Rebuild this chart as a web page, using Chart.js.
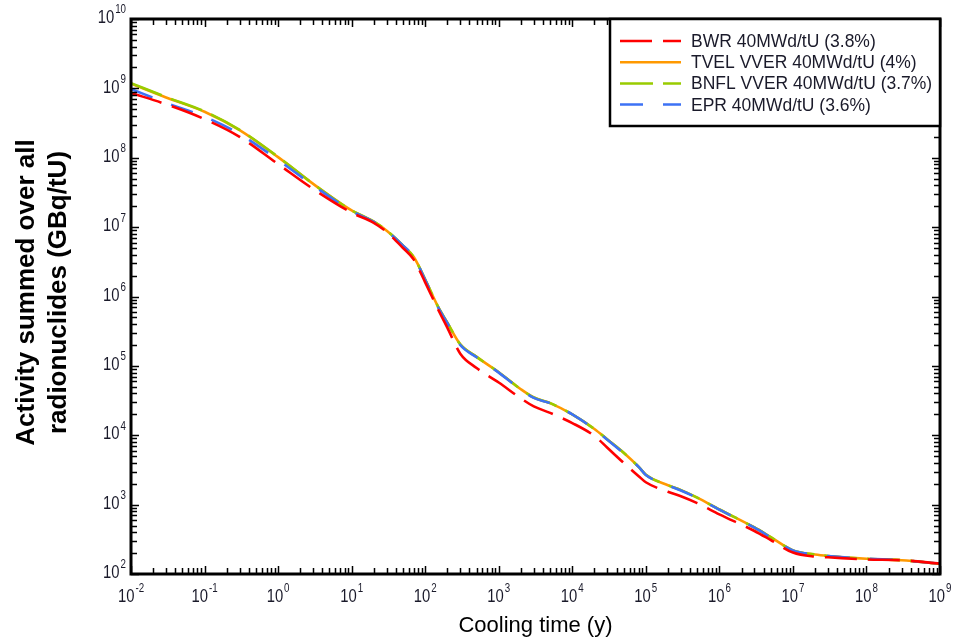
<!DOCTYPE html>
<html><head><meta charset="utf-8">
<script src="https://cdn.jsdelivr.net/npm/chart.js@4.4.1/dist/chart.umd.min.js"></script>
<style>html,body{margin:0;padding:0;background:#fff;} #wrap{position:relative;width:955px;height:639px;}</style>
</head><body><div id="wrap"><canvas id="c" width="955" height="639"></canvas></div>
<script>
// Cooling time (years)
const coolingTime = [0.01, 0.03, 0.1, 0.3, 1, 3, 10, 20, 30, 50, 70, 100, 150, 200, 300, 500,
  1000, 2000, 3000, 5000, 1e4, 2e4, 3e4, 5e4, 8e4, 1e5, 2e5, 3e5, 5e5, 1e6, 3e6, 5e6,
  1e7, 2e7, 3e7, 1e8, 3e8, 1e9];
// Activity (GBq/tU)
const tvel = [1.17e9, 7.4e8, 4.6e8, 2.5e8, 1.02e8, 4.2e7, 1.74e7, 1.2e7, 8.9e6, 5.4e6, 3.7e6, 1.76e6, 7.1e5, 4.2e5, 2.05e5, 1.35e5,
  8.1e4, 4.6e4, 3.5e4, 2.9e4, 2.0e4, 1.23e4, 8.7e3, 5.6e3, 3.5e3, 2.7e3, 1.9e3, 1.62e3, 1.26e3, 851, 468, 339,
  219, 191, 182, 166, 158, 141];
const bnfl = [1.19e9, 7.5e8, 4.65e8, 2.52e8, 1.03e8, 4.2e7, 1.74e7, 1.2e7, 8.9e6, 5.4e6, 3.7e6, 1.76e6, 7.1e5, 4.2e5, 2.05e5, 1.35e5,
  8.1e4, 4.6e4, 3.5e4, 2.9e4, 2.0e4, 1.23e4, 8.7e3, 5.6e3, 3.5e3, 2.7e3, 1.9e3, 1.62e3, 1.26e3, 851, 468, 339,
  219, 191, 182, 166, 158, 141];
const epr = [9.8e8, 6.2e8, 3.9e8, 2.2e8, 9.3e7, 4.0e7, 1.7e7, 1.19e7, 8.8e6, 5.4e6, 3.7e6, 1.74e6, 7.0e5, 4.15e5, 2.0e5, 1.33e5,
  8.0e4, 4.55e4, 3.45e4, 2.9e4, 2.0e4, 1.22e4, 8.6e3, 5.5e3, 3.5e3, 2.68e3, 1.9e3, 1.6e3, 1.25e3, 845, 465, 337,
  218, 190, 181, 166, 158, 141];
const bwr = [8.6e8, 5.9e8, 3.6e8, 2.0e8, 8.1e7, 3.55e7, 1.62e7, 1.15e7, 8.5e6, 5.0e6, 3.4e6, 1.6e6, 6.5e5, 3.55e5, 1.5e5, 9.3e4,
  5.75e4, 3.4e4, 2.6e4, 2.1e4, 1.5e4, 9.8e3, 6.6e3, 4.0e3, 2.57e3, 2.1e3, 1.53e3, 1.32e3, 1.05e3, 724, 417, 309,
  204, 178, 174, 162, 158, 141];
const seriesNames = ['BWR 40MWd/tU (3.8%)', 'TVEL VVER 40MWd/tU (4%)', 'BNFL VVER 40MWd/tU (3.7%)', 'EPR 40MWd/tU (3.6%)'];
const xTickExponents = [-2, -1, 0, 1, 2, 3, 4, 5, 6, 7, 8, 9];
const yTickExponents = [2, 3, 4, 5, 6, 7, 8, 9, 10];
const xTitle = 'Cooling time (y)';
const yTitle = ['Activity summed over all', 'radionuclides (GBq/tU)'];

const colors = ['#ff0000', '#ff9900', '#99cc00', '#3d72f5'];
const dashes = [[32, 11], [], [33, 10], [23, 20]];
const drawOrder = [0, 3, 2, 1];
const seriesValues = [bwr, tvel, bnfl, epr];

const FONT = '"Liberation Sans", Arial, sans-serif';

function pts(vals) { return coolingTime.map((t, i) => ({x: t, y: vals[i]})); }

function drawPow(ctx, exp, x, y, align) {
  const baseSize = 19, supSize = 12.5, sx = 0.78;
  ctx.font = baseSize + 'px ' + FONT;
  const wb = ctx.measureText('10').width * sx;
  ctx.font = supSize + 'px ' + FONT;
  const we = ctx.measureText(String(exp)).width * sx;
  const total = wb + we + 1;
  let start = align === 'right' ? x - total : x - total / 2;
  ctx.textBaseline = 'middle';
  ctx.textAlign = 'left';
  ctx.save(); ctx.translate(start, y); ctx.scale(sx, 1);
  ctx.font = baseSize + 'px ' + FONT; ctx.fillText('10', 0, 0); ctx.restore();
  ctx.save(); ctx.translate(start + wb + 1, y - 8); ctx.scale(sx, 1);
  ctx.font = supSize + 'px ' + FONT; ctx.fillText(String(exp), 0, 0); ctx.restore();
}

const decor = {
  id: 'decor',
  afterDraw(chart) {
    const ctx = chart.ctx, a = chart.chartArea, xs = chart.scales.x, ys = chart.scales.y;
    ctx.save();
    ctx.strokeStyle = '#000'; ctx.fillStyle = '#111';
    // ticks
    ctx.lineWidth = 1.5;
    ctx.beginPath();
    for (let d = -2; d <= 9; d++) for (let m = 1; m <= 9; m++) {
      const v = m * Math.pow(10, d);
      if (v < xs.min * 0.999 || v > xs.max * 1.001) continue;
      const p = Math.round(xs.getPixelForValue(v)) + 0.5, L = m === 1 ? 8 : 6;
      ctx.moveTo(p, a.bottom); ctx.lineTo(p, a.bottom - L);
      ctx.moveTo(p, a.top); ctx.lineTo(p, a.top + L);
    }
    for (let d = 2; d <= 10; d++) for (let m = 1; m <= 9; m++) {
      const v = m * Math.pow(10, d);
      if (v < ys.min * 0.999 || v > ys.max * 1.001) continue;
      const p = Math.round(ys.getPixelForValue(v)) + 0.5, L = m === 1 ? 8 : 6;
      ctx.moveTo(a.left, p); ctx.lineTo(a.left + L, p);
      ctx.moveTo(a.right, p); ctx.lineTo(a.right - L, p);
    }
    ctx.stroke();
    // frame
    ctx.lineWidth = 3;
    ctx.strokeRect(a.left, a.top, a.right - a.left, a.bottom - a.top);
    // tick labels
    ctx.fillStyle = '#1a1a2a';
    xTickExponents.forEach(e => drawPow(ctx, e, xs.getPixelForValue(Math.pow(10, e)), a.bottom + 23, 'center'));
    yTickExponents.forEach(e => drawPow(ctx, e, a.left - 5, ys.getPixelForValue(Math.pow(10, e)) - 1, 'right'));
    // axis titles
    ctx.fillStyle = '#000';
    ctx.font = '22px ' + FONT; ctx.textAlign = 'center'; ctx.textBaseline = 'alphabetic';
    ctx.fillText(xTitle, (a.left + a.right) / 2, 632);
    ctx.font = 'bold 26px ' + FONT;
    [34, 66].forEach((bx, i) => {
      ctx.save(); ctx.translate(bx, (a.top + a.bottom) / 2 - 4); ctx.rotate(-Math.PI / 2);
      ctx.fillText(yTitle[i], 0, 0); ctx.restore();
    });
    // legend
    const L = {x: 610, y: a.top, w: a.right - 610, h: 107};
    ctx.fillStyle = '#fff'; ctx.fillRect(L.x, L.y, L.w, L.h);
    ctx.lineWidth = 2.5; ctx.strokeStyle = '#000'; ctx.strokeRect(L.x, L.y, L.w, L.h);
    seriesNames.forEach((n, i) => {
      const ry = 41 + i * 21.2;
      ctx.strokeStyle = colors[i]; ctx.lineWidth = 2.5; ctx.setLineDash(dashes[i]);
      ctx.beginPath(); ctx.moveTo(620, ry); ctx.lineTo(681, ry); ctx.stroke();
      ctx.setLineDash([]);
      ctx.fillStyle = '#1a1a2a'; ctx.font = '17.5px ' + FONT; ctx.textAlign = 'left'; ctx.textBaseline = 'alphabetic';
      ctx.fillText(n, 691, ry + 6);
    });
    ctx.restore();
  }
};

new Chart(document.getElementById('c'), {
  type: 'line',
  data: {
    datasets: seriesNames.map((n, i) => ({
      label: n, data: pts(seriesValues[i]), borderColor: colors[i], backgroundColor: colors[i],
      borderDash: dashes[i], borderWidth: 2.6, pointRadius: 0, fill: false,
      cubicInterpolationMode: 'monotone', order: drawOrder[i]
    }))
  },
  options: {
    responsive: false, animation: false, devicePixelRatio: 1,
    layout: {padding: {top: 19, right: 15, left: 0, bottom: 0}},
    plugins: {legend: {display: false}, tooltip: {enabled: false}},
    scales: {
      x: {type: 'logarithmic', min: 0.01, max: 1e9, ticks: {display: false}, grid: {display: false}, border: {display: false},
          afterFit: s => { s.height = 65; }},
      y: {type: 'logarithmic', min: 100, max: 1e10, ticks: {display: false}, grid: {display: false}, border: {display: false},
          afterFit: s => { s.width = 131; }}
    }
  },
  plugins: [decor]
});
</script></body></html>
